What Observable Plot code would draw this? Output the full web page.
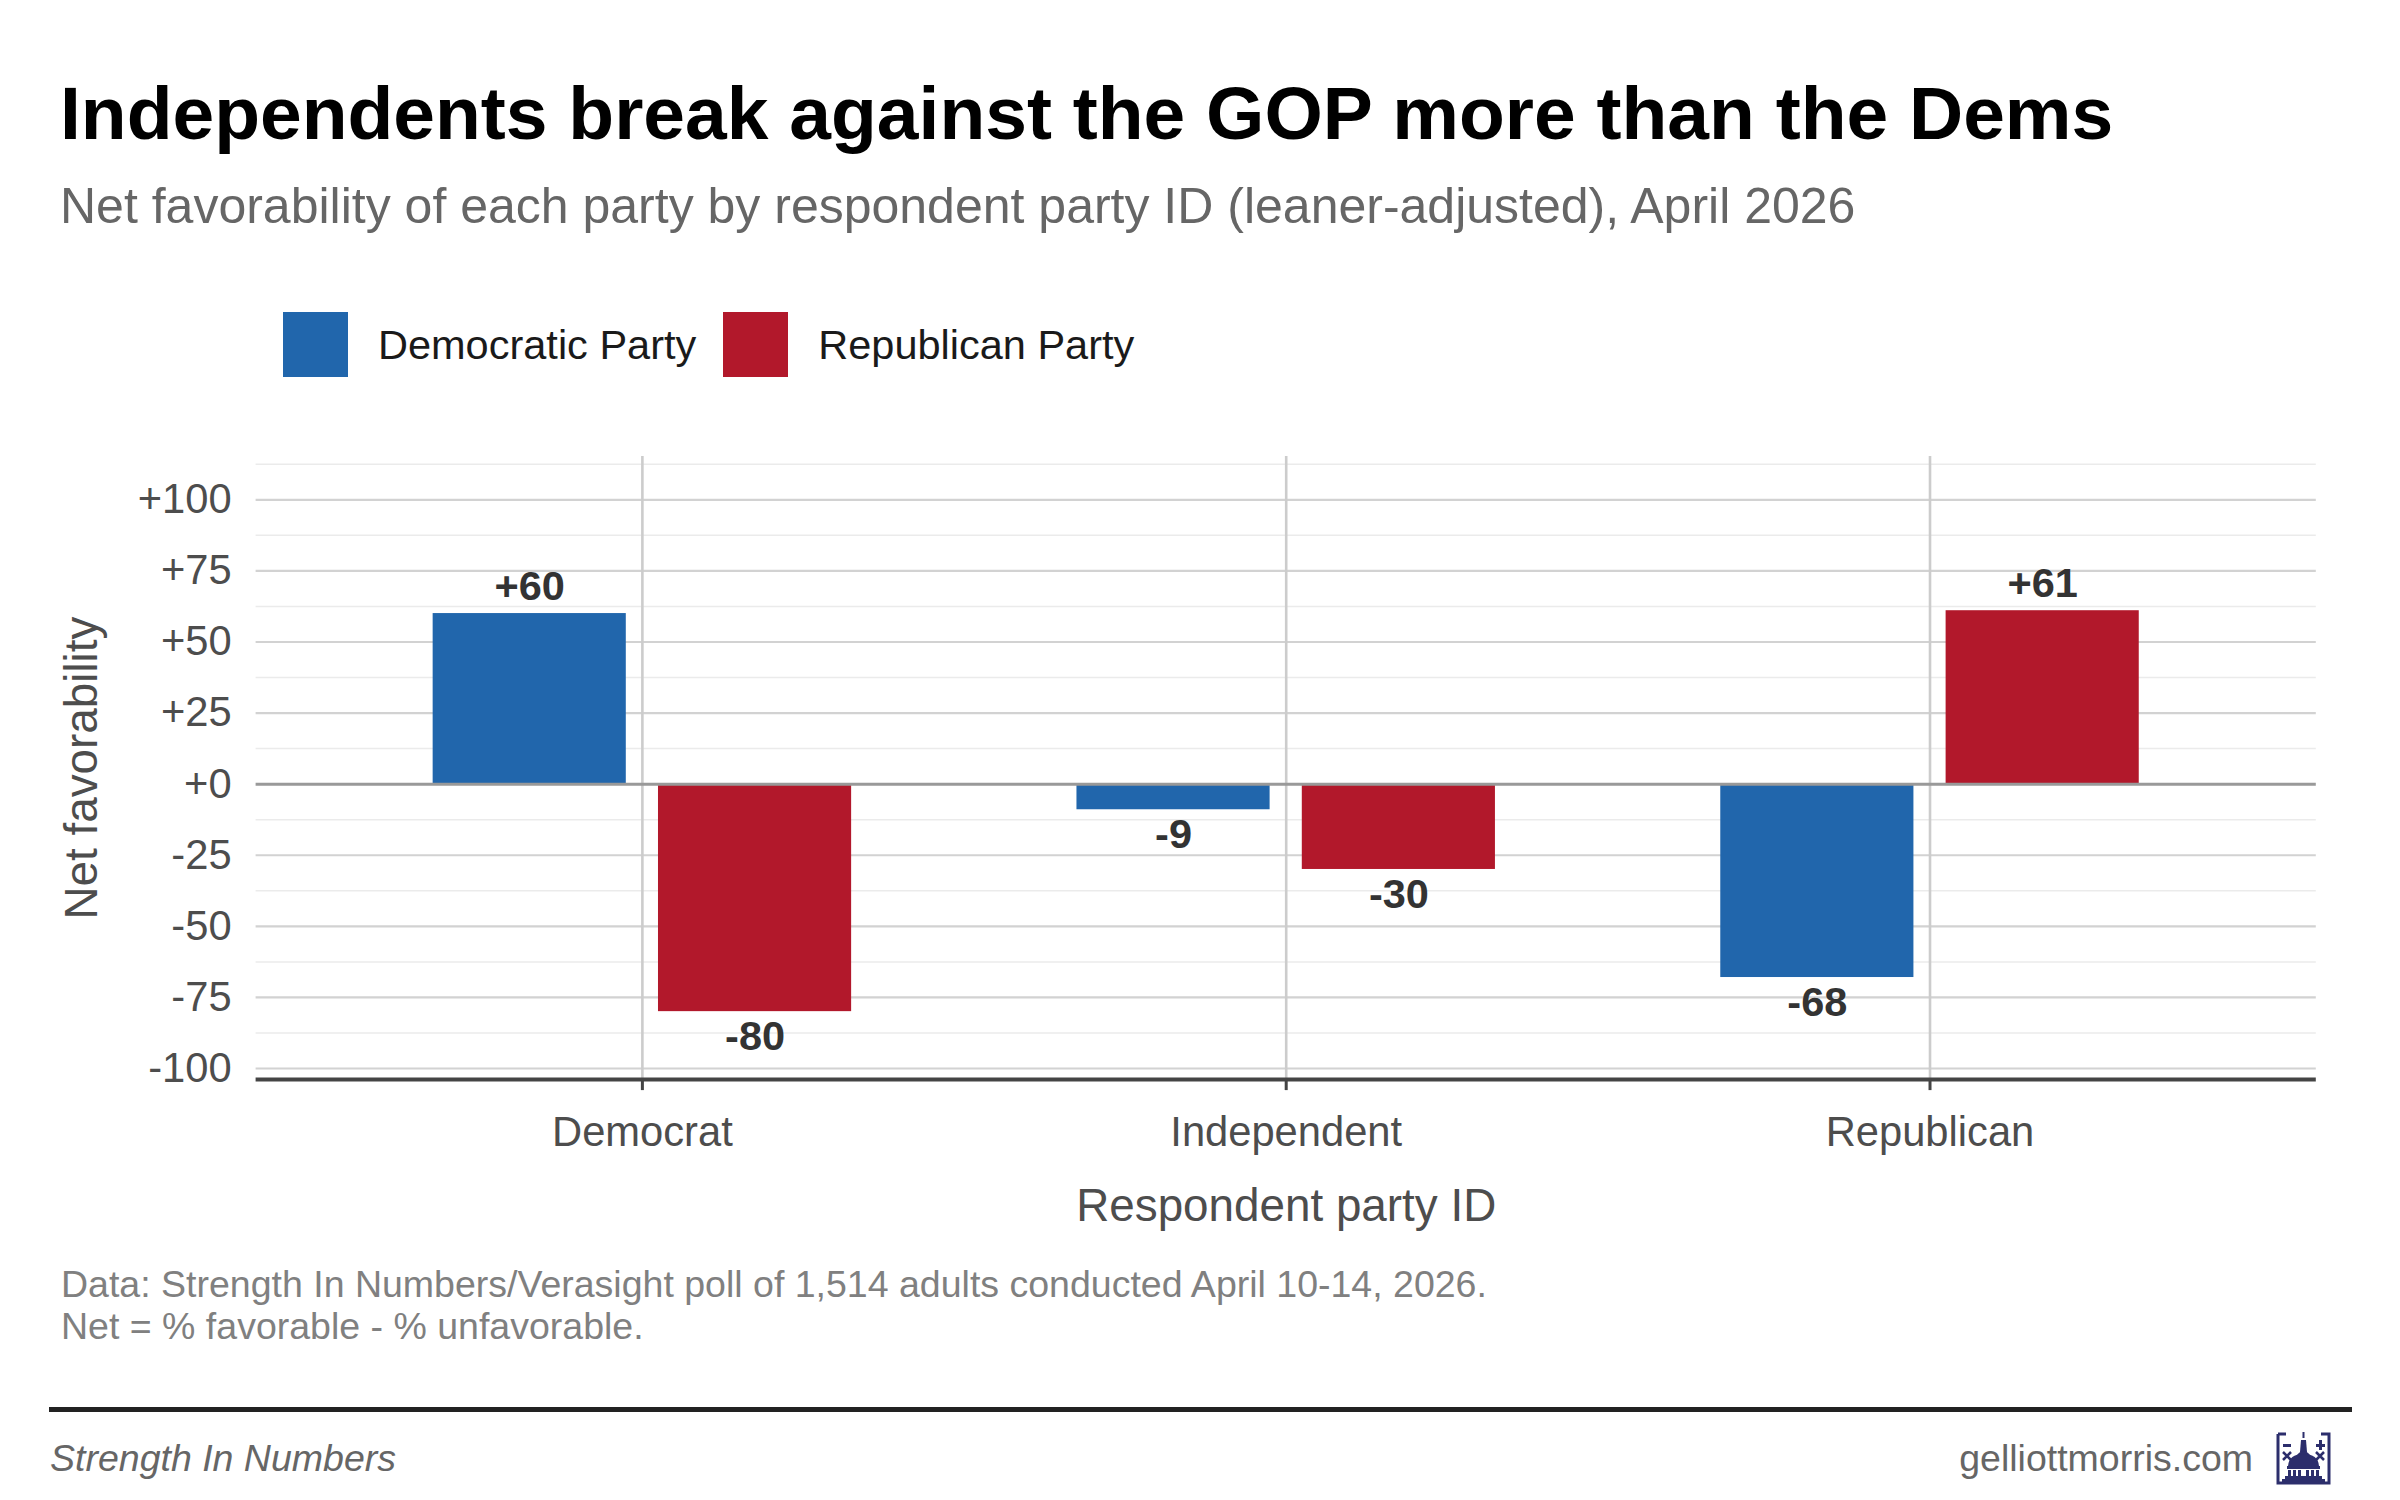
<!DOCTYPE html>
<html>
<head>
<meta charset="utf-8">
<script src="https://cdn.jsdelivr.net/npm/d3@7"></script>
<script src="https://cdn.jsdelivr.net/npm/@observablehq/plot@0.6"></script>
<style>
  html, body { margin: 0; padding: 0; background: #fff; }
  body { width: 2400px; height: 1500px; position: relative; overflow: hidden;
         font-family: "Liberation Sans", Arial, Helvetica, sans-serif; }
  .abs { position: absolute; white-space: nowrap; }
  #title { left: 60px; top: 76px; font-size: 75px; line-height: 75px; font-weight: bold; color: #000; }
  #subtitle { left: 60px; top: 181px; font-size: 50px; line-height: 50px; color: #666; }
  #legend { left: 283px; top: 312px; height: 65px; display: flex; align-items: center; }
  .sw { width: 65px; height: 65px; display: inline-block; }
  .lab { font-size: 41.5px; color: #1a1a1a; margin-left: 30px; margin-right: 27px; }
  #chart { left: 0; top: 430px; }
  #caption { left: 61px; top: 1263px; font-size: 37.5px; line-height: 42px; color: #808080; }
  #rule { left: 49px; top: 1407px; width: 2303px; height: 5px; background: #222; }
  #foot-left { left: 50px; top: 1440px; font-size: 37.5px; line-height: 37.5px; color: #666; font-style: italic; }
  #foot-right { right: 147px; top: 1440px; font-size: 37.5px; line-height: 37.5px; color: #666; }
  #logo { left: 2276px; top: 1432px; }
</style>
</head>
<body>
<div id="title" class="abs">Independents break against the GOP more than the Dems</div>
<div id="subtitle" class="abs">Net favorability of each party by respondent party ID (leaner-adjusted), April 2026</div>
<div id="legend" class="abs"></div>
<div id="chart" class="abs"></div>
<div id="caption" class="abs">Data: Strength In Numbers/Verasight poll of 1,514 adults conducted April 10-14, 2026.<br>Net = % favorable - % unfavorable.</div>
<div id="rule" class="abs"></div>
<div id="foot-left" class="abs">Strength In Numbers</div>
<div id="foot-right" class="abs">gelliottmorris.com</div>
<svg id="logo" class="abs" width="55" height="53" viewBox="0 0 55 53">
  <g fill="none" stroke="#2c2e6c" stroke-width="3">
    <path d="M2 2 H10 M2 2 V51 H53 V2 H45"/>
  </g>
  <g fill="#2c2e6c">
    <rect x="7" y="12" width="8" height="3"/>
    <rect x="40" y="12" width="9" height="3"/>
    <rect x="43" y="8" width="3" height="10"/>
    <path d="M7 20 l8 8 M15 20 l-8 8" stroke="#2c2e6c" stroke-width="2.5"/>
    <path d="M40 20 l8 8 M48 20 l-8 8" stroke="#2c2e6c" stroke-width="2.5"/>
    <rect x="26.5" y="0" width="2" height="6"/>
    <path d="M24 20 L25 8 L30 8 L31 20 Z"/>
    <path d="M21 23 Q27.5 15 34 23 Z"/>
    <path d="M12 34 Q13 22 27.5 22 Q42 22 43 34 Z"/>
    <rect x="11" y="34" width="33" height="3"/>
    <rect x="12" y="38" width="3" height="6"/>
    <rect x="17" y="38" width="3" height="6"/>
    <rect x="22" y="38" width="3" height="6"/>
    <rect x="30" y="38" width="3" height="6"/>
    <rect x="35" y="38" width="3" height="6"/>
    <rect x="40" y="38" width="3" height="6"/>
    <rect x="9" y="44" width="37" height="3"/>
    <rect x="6" y="47" width="43" height="4"/>
  </g>
</svg>
<script>
// ---- data ----
const groups = ["Democrat", "Independent", "Republican"];
const parties = ["Democratic Party", "Republican Party"];
const partyColors = ["#2166ac", "#b2182b"];
const demValues = [60, -9, -68];
const repValues = [-80, -30, 61];
const yMajorTicks = [-100, -75, -50, -25, 0, 25, 50, 75, 100];
const yMinorTicks = [-87.5, -62.5, -37.5, -12.5, 12.5, 37.5, 62.5, 87.5, 112.5];
const yDomain = [-103.9, 115.2];
const xDomain = [0.4, 3.6];

const seriesValues = [demValues, repValues];
const data = [];
groups.forEach((g, gi) => {
  parties.forEach((p, pi) => {
    data.push({group: g, gi: gi + 1, party: p, pi, value: seriesValues[pi][gi]});
  });
});

// dodge layout (ggplot-like: dodge width 0.7, bar width 0.3)
const dodge = 0.35, barW = 0.3;
const center = d => d.gi + (d.pi - 0.5) * dodge;
const fmt = v => (v >= 0 ? "+" : "") + v;

// legend
const legend = document.getElementById("legend");
parties.forEach((p, i) => {
  const sw = document.createElement("span");
  sw.className = "sw"; sw.style.background = partyColors[i];
  const lab = document.createElement("span");
  lab.className = "lab"; lab.textContent = p;
  legend.appendChild(sw); legend.appendChild(lab);
});

const W = 2400, H = 830;
const plot = Plot.plot({
  width: W, height: H,
  marginLeft: 255.6, marginRight: 84.2, marginTop: 26.1, marginBottom: 180.9,
  style: {fontFamily: "'Liberation Sans', Arial, Helvetica, sans-serif", background: "transparent", overflow: "visible"},
  x: {domain: xDomain, axis: null},
  y: {domain: yDomain, axis: null},
  color: {domain: parties, range: partyColors},
  marks: [
    Plot.ruleY(yMinorTicks, {stroke: "#ebebeb", strokeWidth: 1.5}),
    Plot.ruleY(yMajorTicks.filter(d => d !== 0), {stroke: "#d2d2d2", strokeWidth: 2.2}),
    Plot.ruleX([1, 2, 3], {stroke: "#cccccc", strokeWidth: 2.6}),
    Plot.rect(data, {x1: d => center(d) - barW / 2, x2: d => center(d) + barW / 2, y1: 0, y2: "value", fill: "party"}),
    Plot.ruleY([0], {stroke: "#999999", strokeWidth: 3}),
    Plot.ruleY([yDomain[0]], {stroke: "#444444", strokeWidth: 4}),
    Plot.text(data.filter(d => d.value >= 0), {x: center, y: "value", text: d => fmt(d.value), dy: -27, fontSize: 41.5, fontWeight: "bold", fill: "#333333"}),
    Plot.text(data.filter(d => d.value < 0), {x: center, y: "value", text: d => fmt(d.value), dy: 25, fontSize: 41.5, fontWeight: "bold", fill: "#333333"}),
    Plot.axisY({ticks: yMajorTicks, tickFormat: fmt, tickSize: 0, tickPadding: 24.5, fontSize: 41.7, fill: "#4d4d4d", label: null}),
    Plot.axisX({ticks: [1, 2, 3], tickFormat: i => groups[i - 1], tickSize: 11, tickPadding: 26, fontSize: 41.7, fill: "#4d4d4d", stroke: "#444444", strokeWidth: 3, label: null}),
    Plot.text(["Respondent party ID"], {frameAnchor: "bottom", textAnchor: "middle", dy: 141, fontSize: 45.8, fill: "#4d4d4d"}),
    Plot.text(["Net favorability"], {frameAnchor: "left", textAnchor: "middle", dx: -174, rotate: -90, fontSize: 45.8, fill: "#4d4d4d"})
  ]
});
document.getElementById("chart").appendChild(plot);
</script>
</body>
</html>
